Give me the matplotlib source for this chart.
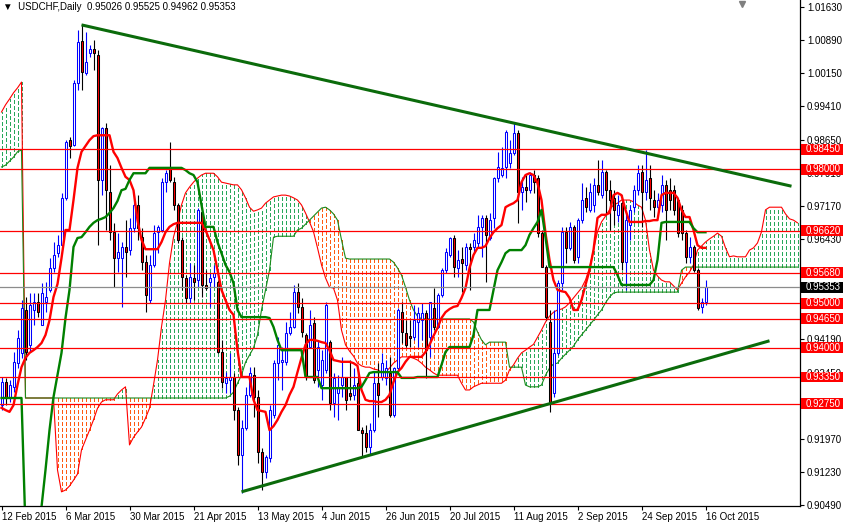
import matplotlib
matplotlib.use('Agg')
import matplotlib.pyplot as plt
import matplotlib.transforms as mtransforms
from matplotlib.patches import Rectangle
import numpy as np

# ---------------- data ----------------
opens = [
    0.9272, 0.9324, 0.9288, 0.9313, 0.9366, 0.9389, 0.9485, 0.9407, 0.9485, 0.9503,
    0.9451, 0.9503, 0.9530, 0.9579, 0.9612, 0.9630, 0.9736, 0.9865, 0.9854, 0.9993,
    1.0087, 1.0015, 1.0060, 1.0069, 1.0056, 0.9776, 0.9892, 0.9749, 0.9660, 0.9601,
    0.9601, 0.9626, 0.9619, 0.9668, 0.9720, 0.9648, 0.9592, 0.9507, 0.9586, 0.9660,
    0.9664, 0.9771, 0.9805, 0.9771, 0.9720, 0.9642, 0.9557, 0.9512, 0.9557, 0.9552,
    0.9704, 0.9541, 0.9548, 0.9559, 0.9548, 0.9391, 0.9322, 0.9328, 0.9335, 0.9261,
    0.9160, 0.9221, 0.9295, 0.9339, 0.9290, 0.9167, 0.9122, 0.9154, 0.9250, 0.9366,
    0.9369, 0.9369, 0.9433, 0.9447, 0.9525, 0.9492, 0.9429, 0.9402, 0.9456, 0.9351,
    0.9317, 0.9351, 0.9413, 0.9277, 0.9299, 0.9317, 0.9335, 0.9299, 0.9295, 0.9322,
    0.9216, 0.9210, 0.9178, 0.9216, 0.9322, 0.9335, 0.9333, 0.9344, 0.9250, 0.9355,
    0.9480, 0.9433, 0.9426, 0.9424, 0.9458, 0.9462, 0.9478, 0.9424, 0.9489, 0.9447,
    0.9518, 0.9574, 0.9608, 0.9646, 0.9579, 0.9599, 0.9586, 0.9626, 0.9626, 0.9635,
    0.9671, 0.9691, 0.9646, 0.9691, 0.9780, 0.9787, 0.9805, 0.9814, 0.9836, 0.9881,
    0.9749, 0.9760, 0.9754, 0.9787, 0.9780, 0.9657, 0.9581, 0.9458, 0.9299, 0.9389,
    0.9545, 0.9660, 0.9624, 0.9671, 0.9604, 0.9686, 0.9736, 0.9709, 0.9720, 0.9765,
    0.9742, 0.9794, 0.9754, 0.9736, 0.9698, 0.9724, 0.9592, 0.9675, 0.9715, 0.9754,
    0.9794, 0.9749, 0.9780, 0.9731, 0.9715, 0.9720, 0.9765, 0.9754, 0.9754, 0.9731,
    0.9709, 0.9657, 0.9604, 0.9626, 0.9574, 0.9492, 0.95026,
]
highs = [
    0.9335, 0.9333, 0.9328, 0.9391, 0.9440, 0.9507, 0.9514, 0.9523, 0.9523, 0.9523,
    0.9545, 0.9548, 0.9601, 0.9637, 0.9653, 0.9747, 0.9865, 0.9872, 1.0000, 1.0112,
    1.0125, 1.0107, 1.0078, 1.0089, 1.0067, 0.9894, 0.9903, 0.9809, 0.9680, 0.9657,
    0.9637, 0.9686, 0.9691, 0.9742, 0.9742, 0.9668, 0.9608, 0.9608, 0.9675, 0.9675,
    0.9780, 0.9798, 0.9861, 0.9783, 0.9724, 0.9648, 0.9563, 0.9590, 0.9586, 0.9713,
    0.9715, 0.9574, 0.9568, 0.9586, 0.9552, 0.9418, 0.9346, 0.9389, 0.9344, 0.9268,
    0.9239, 0.9313, 0.9357, 0.9357, 0.9306, 0.9176, 0.9160, 0.9272, 0.9373, 0.9424,
    0.9402, 0.9458, 0.9480, 0.9541, 0.9545, 0.9512, 0.9433, 0.9485, 0.9469, 0.9418,
    0.9395, 0.9503, 0.9418, 0.9344, 0.9339, 0.9380, 0.9335, 0.9373, 0.9355, 0.9344,
    0.9223, 0.9228, 0.9232, 0.9346, 0.9366, 0.9389, 0.9373, 0.9380, 0.9357, 0.9489,
    0.9503, 0.9462, 0.9462, 0.9496, 0.9492, 0.9500, 0.9485, 0.9503, 0.9534, 0.9523,
    0.9579, 0.9624, 0.9648, 0.9653, 0.9619, 0.9626, 0.9635, 0.9635, 0.9657, 0.9698,
    0.9698, 0.9698, 0.9702, 0.9783, 0.9838, 0.9850, 0.9888, 0.9865, 0.9903, 0.9888,
    0.9783, 0.9787, 0.9794, 0.9798, 0.9787, 0.9664, 0.9586, 0.9485, 0.9485, 0.9552,
    0.9671, 0.9671, 0.9682, 0.9675, 0.9691, 0.9769, 0.9760, 0.9769, 0.9780, 0.9821,
    0.9821, 0.9798, 0.9776, 0.9754, 0.9742, 0.9742, 0.9702, 0.9720, 0.9765, 0.9809,
    0.9809, 0.9843, 0.9809, 0.9754, 0.9747, 0.9787, 0.9776, 0.9780, 0.9765, 0.9736,
    0.9720, 0.9664, 0.9648, 0.9630, 0.9579, 0.9512, 0.95525,
]
lows = [
    0.9261, 0.9272, 0.9279, 0.9301, 0.9355, 0.9378, 0.9373, 0.9391, 0.9451, 0.9469,
    0.9451, 0.9480, 0.9525, 0.9570, 0.9604, 0.9630, 0.9731, 0.9825, 0.9852, 0.9977,
    0.9977, 1.0011, 1.0051, 1.0022, 0.9630, 0.9742, 0.9664, 0.9642, 0.9536, 0.9570,
    0.9492, 0.9559, 0.9608, 0.9660, 0.9642, 0.9574, 0.9480, 0.9501, 0.9581, 0.9612,
    0.9660, 0.9749, 0.9771, 0.9709, 0.9635, 0.9530, 0.9501, 0.9501, 0.9507, 0.9536,
    0.9514, 0.9530, 0.9492, 0.9536, 0.9389, 0.9310, 0.9299, 0.9299, 0.9239, 0.9138,
    0.9075, 0.9216, 0.9290, 0.9245, 0.9143, 0.9082, 0.9109, 0.9145, 0.9243, 0.9328,
    0.9306, 0.9362, 0.9429, 0.9445, 0.9478, 0.9425, 0.9328, 0.9400, 0.9322, 0.9313,
    0.9284, 0.9344, 0.9261, 0.9245, 0.9239, 0.9290, 0.9261, 0.9284, 0.9284, 0.9216,
    0.9156, 0.9167, 0.9160, 0.9212, 0.9245, 0.9328, 0.9317, 0.9245, 0.9245, 0.9351,
    0.9411, 0.9402, 0.9402, 0.9418, 0.9402, 0.9418, 0.9333, 0.9380, 0.9440, 0.9445,
    0.9514, 0.9568, 0.9604, 0.9559, 0.9559, 0.9525, 0.9574, 0.9530, 0.9615, 0.9624,
    0.9604, 0.9548, 0.9642, 0.9668, 0.9771, 0.9783, 0.9780, 0.9803, 0.9832, 0.9680,
    0.9709, 0.9727, 0.9747, 0.9747, 0.9648, 0.9581, 0.9462, 0.9257, 0.9290, 0.9384,
    0.9530, 0.9590, 0.9619, 0.9590, 0.9590, 0.9680, 0.9704, 0.9704, 0.9704, 0.9742,
    0.9736, 0.9698, 0.9664, 0.9675, 0.9682, 0.9574, 0.9530, 0.9642, 0.9704, 0.9742,
    0.9671, 0.9731, 0.9709, 0.9693, 0.9709, 0.9704, 0.9642, 0.9709, 0.9698, 0.9648,
    0.9642, 0.9590, 0.9590, 0.9570, 0.9485, 0.9478, 0.94962,
]
closes = [
    0.9324, 0.9288, 0.9317, 0.9369, 0.9422, 0.9489, 0.9391, 0.9496, 0.9503, 0.9480,
    0.9523, 0.9514, 0.9579, 0.9608, 0.9630, 0.9736, 0.9861, 0.9852, 0.9993, 1.0085,
    1.0018, 1.0040, 1.0069, 1.0060, 0.9776, 0.9892, 0.9754, 0.9660, 0.9601, 0.9615,
    0.9626, 0.9615, 0.9668, 0.9720, 0.9668, 0.9592, 0.9518, 0.9586, 0.9657, 0.9671,
    0.9771, 0.9791, 0.9776, 0.9720, 0.9642, 0.9559, 0.9512, 0.9559, 0.9548, 0.9709,
    0.9541, 0.9534, 0.9557, 0.9568, 0.9391, 0.9324, 0.9333, 0.9335, 0.9261, 0.9160,
    0.9221, 0.9295, 0.9344, 0.9290, 0.9167, 0.9122, 0.9156, 0.9261, 0.9366, 0.9407,
    0.9373, 0.9433, 0.9447, 0.9525, 0.9492, 0.9436, 0.9335, 0.9451, 0.9328, 0.9402,
    0.9373, 0.9496, 0.9277, 0.9333, 0.9313, 0.9335, 0.9284, 0.9292, 0.9317, 0.9216,
    0.9210, 0.9178, 0.9216, 0.9322, 0.9295, 0.9366, 0.9355, 0.9250, 0.9355, 0.9485,
    0.9436, 0.9407, 0.9422, 0.9462, 0.9478, 0.9478, 0.9395, 0.9503, 0.9447, 0.9518,
    0.9574, 0.9615, 0.9646, 0.9581, 0.9597, 0.9590, 0.9626, 0.9621, 0.9642, 0.9671,
    0.9691, 0.9653, 0.9686, 0.9780, 0.9805, 0.9803, 0.9883, 0.9836, 0.9881, 0.9749,
    0.9760, 0.9754, 0.9787, 0.9771, 0.9657, 0.9581, 0.9469, 0.9279, 0.9389, 0.9545,
    0.9660, 0.9624, 0.9671, 0.9597, 0.9686, 0.9731, 0.9715, 0.9749, 0.9765, 0.9749,
    0.9794, 0.9754, 0.9731, 0.9709, 0.9720, 0.9592, 0.9686, 0.9709, 0.9754, 0.9791,
    0.9749, 0.9776, 0.9736, 0.9715, 0.9731, 0.9765, 0.9709, 0.9731, 0.9709, 0.9657,
    0.9657, 0.9604, 0.9626, 0.9574, 0.9489, 0.9503, 0.95353,
]

tenkan = [
    0.9266, 0.9261, 0.9257, 0.9272, 0.9317, 0.9357, 0.9378, 0.9389, 0.9395, 0.9402,
    0.9411, 0.9429, 0.9462, 0.9514, 0.9543, 0.9601, 0.9664, 0.9664, 0.9731, 0.9803,
    0.9839, 0.9852, 0.9865, 0.9874, 0.9876, 0.9876, 0.9876, 0.9876, 0.9839, 0.9825,
    0.9803, 0.9783, 0.9776, 0.9753, 0.9686, 0.9642, 0.9621, 0.9621, 0.9621, 0.9621,
    0.9637, 0.9659, 0.9671, 0.9677, 0.9680, 0.9680, 0.9680, 0.9680, 0.9680, 0.9680,
    0.9680, 0.9664, 0.9642, 0.9619, 0.9574, 0.9530, 0.9507, 0.9485, 0.9474, 0.9395,
    0.9335, 0.9335, 0.9335, 0.9284, 0.9261, 0.9259, 0.9257, 0.9216, 0.9225, 0.9239,
    0.9257, 0.9272, 0.9295, 0.9313, 0.9346, 0.9378, 0.9407, 0.9418, 0.9418, 0.9416,
    0.9413, 0.9411, 0.9395, 0.9373, 0.9371, 0.9369, 0.9369, 0.9369, 0.9366, 0.9360,
    0.9306, 0.9284, 0.9281, 0.9281, 0.9279, 0.9279, 0.9284, 0.9295, 0.9324, 0.9346,
    0.9355, 0.9369, 0.9380, 0.9380, 0.9380, 0.9380, 0.9391, 0.9407, 0.9427, 0.9445,
    0.9467, 0.9480, 0.9487, 0.9492, 0.9494, 0.9512, 0.9534, 0.9579, 0.9608, 0.9624,
    0.9624, 0.9628, 0.9646, 0.9659, 0.9668, 0.9675, 0.9715, 0.9720, 0.9724, 0.9731,
    0.9771, 0.9787, 0.9791, 0.9787, 0.9769, 0.9731, 0.9657, 0.9597, 0.9552, 0.9530,
    0.9527, 0.9525, 0.9512, 0.9485, 0.9485, 0.9507, 0.9541, 0.9574, 0.9619, 0.9691,
    0.9698, 0.9698, 0.9702, 0.9742, 0.9747, 0.9742, 0.9709, 0.9682, 0.9682, 0.9682,
    0.9682, 0.9684, 0.9684, 0.9686, 0.9686, 0.9742, 0.9747, 0.9747, 0.9747, 0.9736,
    0.9709, 0.9693, 0.9693, 0.9664, 0.9630, 0.9624, 0.9624,
]
kijun = [
    0.9288, 0.9288, 0.9288, 0.9288, 0.9288, 0.9288, 0.8993, 0.8993, 0.8993, 0.9004,
    0.9044, 0.9127, 0.9216, 0.9290, 0.9339, 0.9389, 0.9467, 0.9530, 0.9626, 0.9646,
    0.9648, 0.9659, 0.9671, 0.9680, 0.9686, 0.9689, 0.9693, 0.9702, 0.9713, 0.9729,
    0.9753, 0.9756, 0.9776, 0.9791, 0.9791, 0.9791, 0.9791, 0.9803, 0.9803, 0.9803,
    0.9803, 0.9803, 0.9803, 0.9803, 0.9803, 0.9803, 0.9798, 0.9791, 0.9787, 0.9771,
    0.9720, 0.9671, 0.9671, 0.9671, 0.9637, 0.9612, 0.9586, 0.9570, 0.9545, 0.9485,
    0.9469, 0.9469, 0.9469, 0.9469, 0.9469, 0.9469, 0.9469, 0.9467, 0.9447, 0.9418,
    0.9395, 0.9395, 0.9395, 0.9395, 0.9395, 0.9395, 0.9335, 0.9335, 0.9335, 0.9335,
    0.9310, 0.9310, 0.9310, 0.9310, 0.9310, 0.9310, 0.9310, 0.9310, 0.9310, 0.9310,
    0.9313, 0.9328, 0.9344, 0.9346, 0.9346, 0.9346, 0.9346, 0.9346, 0.9346, 0.9346,
    0.9333, 0.9333, 0.9333, 0.9333, 0.9335, 0.9335, 0.9335, 0.9335, 0.9335, 0.9335,
    0.9362, 0.9391, 0.9402, 0.9402, 0.9402, 0.9402, 0.9402, 0.9402, 0.9429, 0.9485,
    0.9485, 0.9485, 0.9485, 0.9530, 0.9574, 0.9592, 0.9612, 0.9619, 0.9619, 0.9619,
    0.9619, 0.9630, 0.9653, 0.9668, 0.9682, 0.9709, 0.9648, 0.9581, 0.9581, 0.9581,
    0.9581, 0.9581, 0.9581, 0.9581, 0.9581, 0.9581, 0.9581, 0.9581, 0.9581, 0.9581,
    0.9581, 0.9581, 0.9581, 0.9581, 0.9563, 0.9541, 0.9541, 0.9541, 0.9541, 0.9541,
    0.9541, 0.9541, 0.9541, 0.9552, 0.9597, 0.9680, 0.9682, 0.9682, 0.9682, 0.9682,
    0.9682, 0.9682, 0.9682, 0.9668, 0.9659, 0.9659, 0.9659,
]
span_a = [
    0.9928, 0.9944, 0.9957, 0.9971, 0.9982, 0.9995, 0.9288, 0.9288, 0.9288, 0.9288,
    0.9288, 0.9288, 0.9288, 0.9288, 0.9127, 0.9078, 0.9082, 0.9091, 0.9104, 0.9118,
    0.9172, 0.9194, 0.9216, 0.9239, 0.9265, 0.9279, 0.9284, 0.9284, 0.9284, 0.9297,
    0.9306, 0.9313, 0.9183, 0.9200, 0.9212, 0.9223, 0.9243, 0.9265, 0.9317, 0.9373,
    0.9447, 0.9507, 0.9590, 0.9648, 0.9682, 0.9720, 0.9747, 0.9760, 0.9771, 0.9780,
    0.9787, 0.9791, 0.9791, 0.9791, 0.9783, 0.9771, 0.9769, 0.9767, 0.9765, 0.9765,
    0.9754, 0.9736, 0.9715, 0.9706, 0.9709, 0.9713, 0.9724, 0.9731, 0.9738, 0.9740,
    0.9742, 0.9742, 0.9740, 0.9736, 0.9731, 0.9720, 0.9702, 0.9682, 0.9660, 0.9624,
    0.9586, 0.9557, 0.9536, 0.9534, 0.9507, 0.9440, 0.9407, 0.9393, 0.9382, 0.9366,
    0.9360, 0.9357, 0.9357, 0.9353, 0.9351, 0.9346, 0.9346, 0.9355, 0.9366, 0.9373,
    0.9380, 0.9380, 0.9380, 0.9377, 0.9373, 0.9366, 0.9357, 0.9351, 0.9344, 0.9339,
    0.9339, 0.9339, 0.9339, 0.9339, 0.9339, 0.9321, 0.9306, 0.9306, 0.9313, 0.9317,
    0.9321, 0.9321, 0.9321, 0.9321, 0.9321, 0.9321, 0.9328, 0.9351, 0.9362, 0.9377,
    0.9389, 0.9395, 0.9402, 0.9408, 0.9424, 0.9440, 0.9458, 0.9471, 0.9480, 0.9485,
    0.9487, 0.9492, 0.9501, 0.9512, 0.9523, 0.9534, 0.9552, 0.9579, 0.9619, 0.9660,
    0.9682, 0.9695, 0.9709, 0.9720, 0.9724, 0.9731, 0.9731, 0.9731, 0.9727, 0.9720,
    0.9715, 0.9686, 0.9619, 0.9574, 0.9561, 0.9552, 0.9548, 0.9548, 0.9539, 0.9530,
    0.9545, 0.9559, 0.9570, 0.9586, 0.9619, 0.9628, 0.9637, 0.9644, 0.9650, 0.9657,
    0.9650, 0.9624, 0.9604, 0.9606, 0.9604, 0.9604, 0.9604, 0.9619, 0.9624, 0.9635,
    0.9660, 0.9709, 0.9715, 0.9715, 0.9715, 0.9715, 0.9700, 0.9689, 0.9686, 0.9680,
]
span_b = [
    0.9805, 0.9809, 0.9818, 0.9827, 0.9839, 0.9843, 0.9288, 0.9288, 0.9288, 0.9288,
    0.9288, 0.9288, 0.9288, 0.9288, 0.9288, 0.9288, 0.9288, 0.9288, 0.9288, 0.9288,
    0.9288, 0.9288, 0.9288, 0.9288, 0.9288, 0.9288, 0.9288, 0.9288, 0.9288, 0.9288,
    0.9288, 0.9288, 0.9288, 0.9288, 0.9288, 0.9288, 0.9288, 0.9288, 0.9288, 0.9288,
    0.9288, 0.9288, 0.9288, 0.9288, 0.9288, 0.9288, 0.9288, 0.9288, 0.9288, 0.9288,
    0.9288, 0.9288, 0.9288, 0.9288, 0.9288, 0.9288, 0.9288, 0.9292, 0.9301, 0.9321,
    0.9339, 0.9368, 0.9384, 0.9400, 0.9429, 0.9485, 0.9530, 0.9574, 0.9648, 0.9650,
    0.9650, 0.9650, 0.9650, 0.9650, 0.9664, 0.9668, 0.9677, 0.9686, 0.9695, 0.9704,
    0.9713, 0.9715, 0.9709, 0.9700, 0.9686, 0.9642, 0.9601, 0.9599, 0.9599, 0.9599,
    0.9599, 0.9599, 0.9599, 0.9599, 0.9599, 0.9599, 0.9599, 0.9599, 0.9592, 0.9579,
    0.9563, 0.9536, 0.9507, 0.9485, 0.9471, 0.9465, 0.9465, 0.9465, 0.9465, 0.9465,
    0.9465, 0.9465, 0.9465, 0.9465, 0.9465, 0.9465, 0.9465, 0.9465, 0.9458, 0.9436,
    0.9418, 0.9407, 0.9413, 0.9413, 0.9413, 0.9413, 0.9413, 0.9357, 0.9357, 0.9357,
    0.9357, 0.9317, 0.9313, 0.9313, 0.9313, 0.9317, 0.9339, 0.9355, 0.9364, 0.9366,
    0.9377, 0.9386, 0.9395, 0.9404, 0.9418, 0.9429, 0.9440, 0.9451, 0.9462, 0.9474,
    0.9485, 0.9501, 0.9514, 0.9523, 0.9525, 0.9525, 0.9525, 0.9525, 0.9525, 0.9525,
    0.9525, 0.9525, 0.9525, 0.9525, 0.9525, 0.9525, 0.9525, 0.9525, 0.9525, 0.9525,
    0.9574, 0.9581, 0.9581, 0.9581, 0.9581, 0.9581, 0.9581, 0.9581, 0.9581, 0.9581,
    0.9581, 0.9581, 0.9581, 0.9581, 0.9581, 0.9581, 0.9581, 0.9581, 0.9581, 0.9581,
    0.9581, 0.9581, 0.9581, 0.9581, 0.9581, 0.9581, 0.9581, 0.9581, 0.9581, 0.9581,
]

level_prices = [0.9845, 0.9800, 0.9662, 0.9568, 0.9500, 0.9465, 0.9400, 0.9335, 0.9275]
current_price = 0.95353

trend_upper_bars = [20, 197.5]
trend_upper_prices = [1.0123, 0.9762]
trend_lower_bars = [60, 192]
trend_lower_prices = [0.9078, 0.9416]

ytick_values = [1.0163, 1.0089, 1.0015, 0.9941, 0.9865, 0.9791, 0.9717, 0.9643,
                0.9569, 0.9495, 0.9419, 0.9345, 0.9271, 0.9197, 0.9123, 0.9049]
# tick labels that the level boxes cover completely in the reference
ytick_hidden = [0.9569, 0.9495, 0.9271]
xtick_bars = [0, 16, 32, 48, 64, 80, 96, 112, 128, 144, 160, 176]
xtick_labels = ['12 Feb 2015', '6 Mar 2015', '30 Mar 2015', '21 Apr 2015', '13 May 2015',
                '4 Jun 2015', '26 Jun 2015', '20 Jul 2015', '11 Aug 2015', '2 Sep 2015',
                '24 Sep 2015', '16 Oct 2015']
title_text = '\u25bc  USDCHF,Daily  0.95026 0.95525 0.94962 0.95353'

# ---------------- drawing ----------------
plt.rcParams['font.family'] = ['Liberation Sans', 'DejaVu Sans']
plt.rcParams['lines.scale_dashes'] = False

fig = plt.figure(figsize=(8.43, 5.23), dpi=100)
ax = fig.add_axes([0, 17 / 523, 800 / 843, 506 / 523])
ax.set_xlim(-0.375, 199.625)
ax.set_ylim(0.90463, 1.01787)

o = np.array(opens); h = np.array(highs); l = np.array(lows); c = np.array(closes)
bars = np.arange(len(o))
bull = c >= o

sa = np.array(span_a); sb = np.array(span_b)
cb = np.arange(len(sa))
g = sa > sb
r = sa < sb
dash = (0, (2.2, 2.0))
ax.vlines(cb[g], sb[g], sa[g], colors='#27a85a', linestyles=[dash], linewidth=0.75,
          zorder=1, antialiased=False)
ax.vlines(cb[r], sb[r], sa[r], colors='#ff5a10', linestyles=[dash], linewidth=0.75,
          zorder=1, antialiased=False)
ax.plot(cb, sa, color='#ff0000', lw=0.8, zorder=2)
ax.plot(cb, sb, color='#1a8a1a', lw=0.8, zorder=2)

# candles
wick_colors = np.where(bull, '#0000ff', '#000000')
ax.vlines(bars, l, h, colors=wick_colors, linewidth=0.8, zorder=3)
body_face = np.where(bull, '#ffffff', '#ff0000')
body_edge = np.where(bull, '#0000ff', '#000000')
ax.bar(bars, np.abs(c - o), bottom=np.minimum(o, c), width=0.5,
       color=body_face, edgecolor=body_edge, linewidth=0.75, zorder=4)

# tenkan / kijun
ax.plot(np.arange(len(tenkan)), tenkan, color='#ff0000', lw=1.7, zorder=5)
ax.plot(np.arange(len(kijun)), kijun, color='#008000', lw=1.7, zorder=5)

# horizontal levels
for p in level_prices:
    ax.axhline(p, color='#ff0000', lw=0.9, zorder=6)
ax.axhline(current_price, color='#8c8c8c', lw=0.9, zorder=6)

# trendlines
ax.plot(trend_upper_bars, trend_upper_prices, color='#0b6b0b', lw=2.2, zorder=7,
        solid_capstyle='butt')
ax.plot(trend_lower_bars, trend_lower_prices, color='#0b6b0b', lw=2.2, zorder=7,
        solid_capstyle='butt')

# axes styling
for s in ['left', 'top']:
    ax.spines[s].set_visible(False)
for s in ['right', 'bottom']:
    ax.spines[s].set_color('black')
    ax.spines[s].set_linewidth(0.9)
ax.yaxis.tick_right()
ax.set_yticks(ytick_values)
ax.set_yticklabels(['' if v in ytick_hidden else '%.5f' % v for v in ytick_values])
ax.tick_params(axis='y', direction='out', length=3, width=0.8, pad=2, labelsize=7,
               colors='black')
ax.set_xticks(xtick_bars)
ax.set_xticklabels(xtick_labels, ha='left')
ax.tick_params(axis='x', direction='out', length=3, width=0.8, pad=1.5, labelsize=7,
               colors='black')

# price label boxes on the right axis
trans = mtransforms.blended_transform_factory(ax.transAxes, ax.transData)
box_h = 0.00245
for p in level_prices + [current_price]:
    fc = '#000000' if p == current_price else '#ff0000'
    ax.add_patch(Rectangle((1.0015, p - box_h / 2), 0.06, box_h, transform=trans,
                           facecolor=fc, edgecolor='none', clip_on=False, zorder=10))
    ax.text(1.0075, p, '%.5f' % p, transform=trans, color='white', fontsize=7,
            va='center', ha='left', zorder=11, clip_on=False)

# title
ax.text(0.004, 0.996, title_text, transform=ax.transAxes, va='top', ha='left',
        fontsize=7, color='black', zorder=12)
# chart-shift marker
ax.plot([0.928], [0.993], marker='v', color='#7f7f7f', ms=4.5,
        transform=ax.transAxes, clip_on=False, zorder=12)

fig.savefig('out.png', dpi=100)
